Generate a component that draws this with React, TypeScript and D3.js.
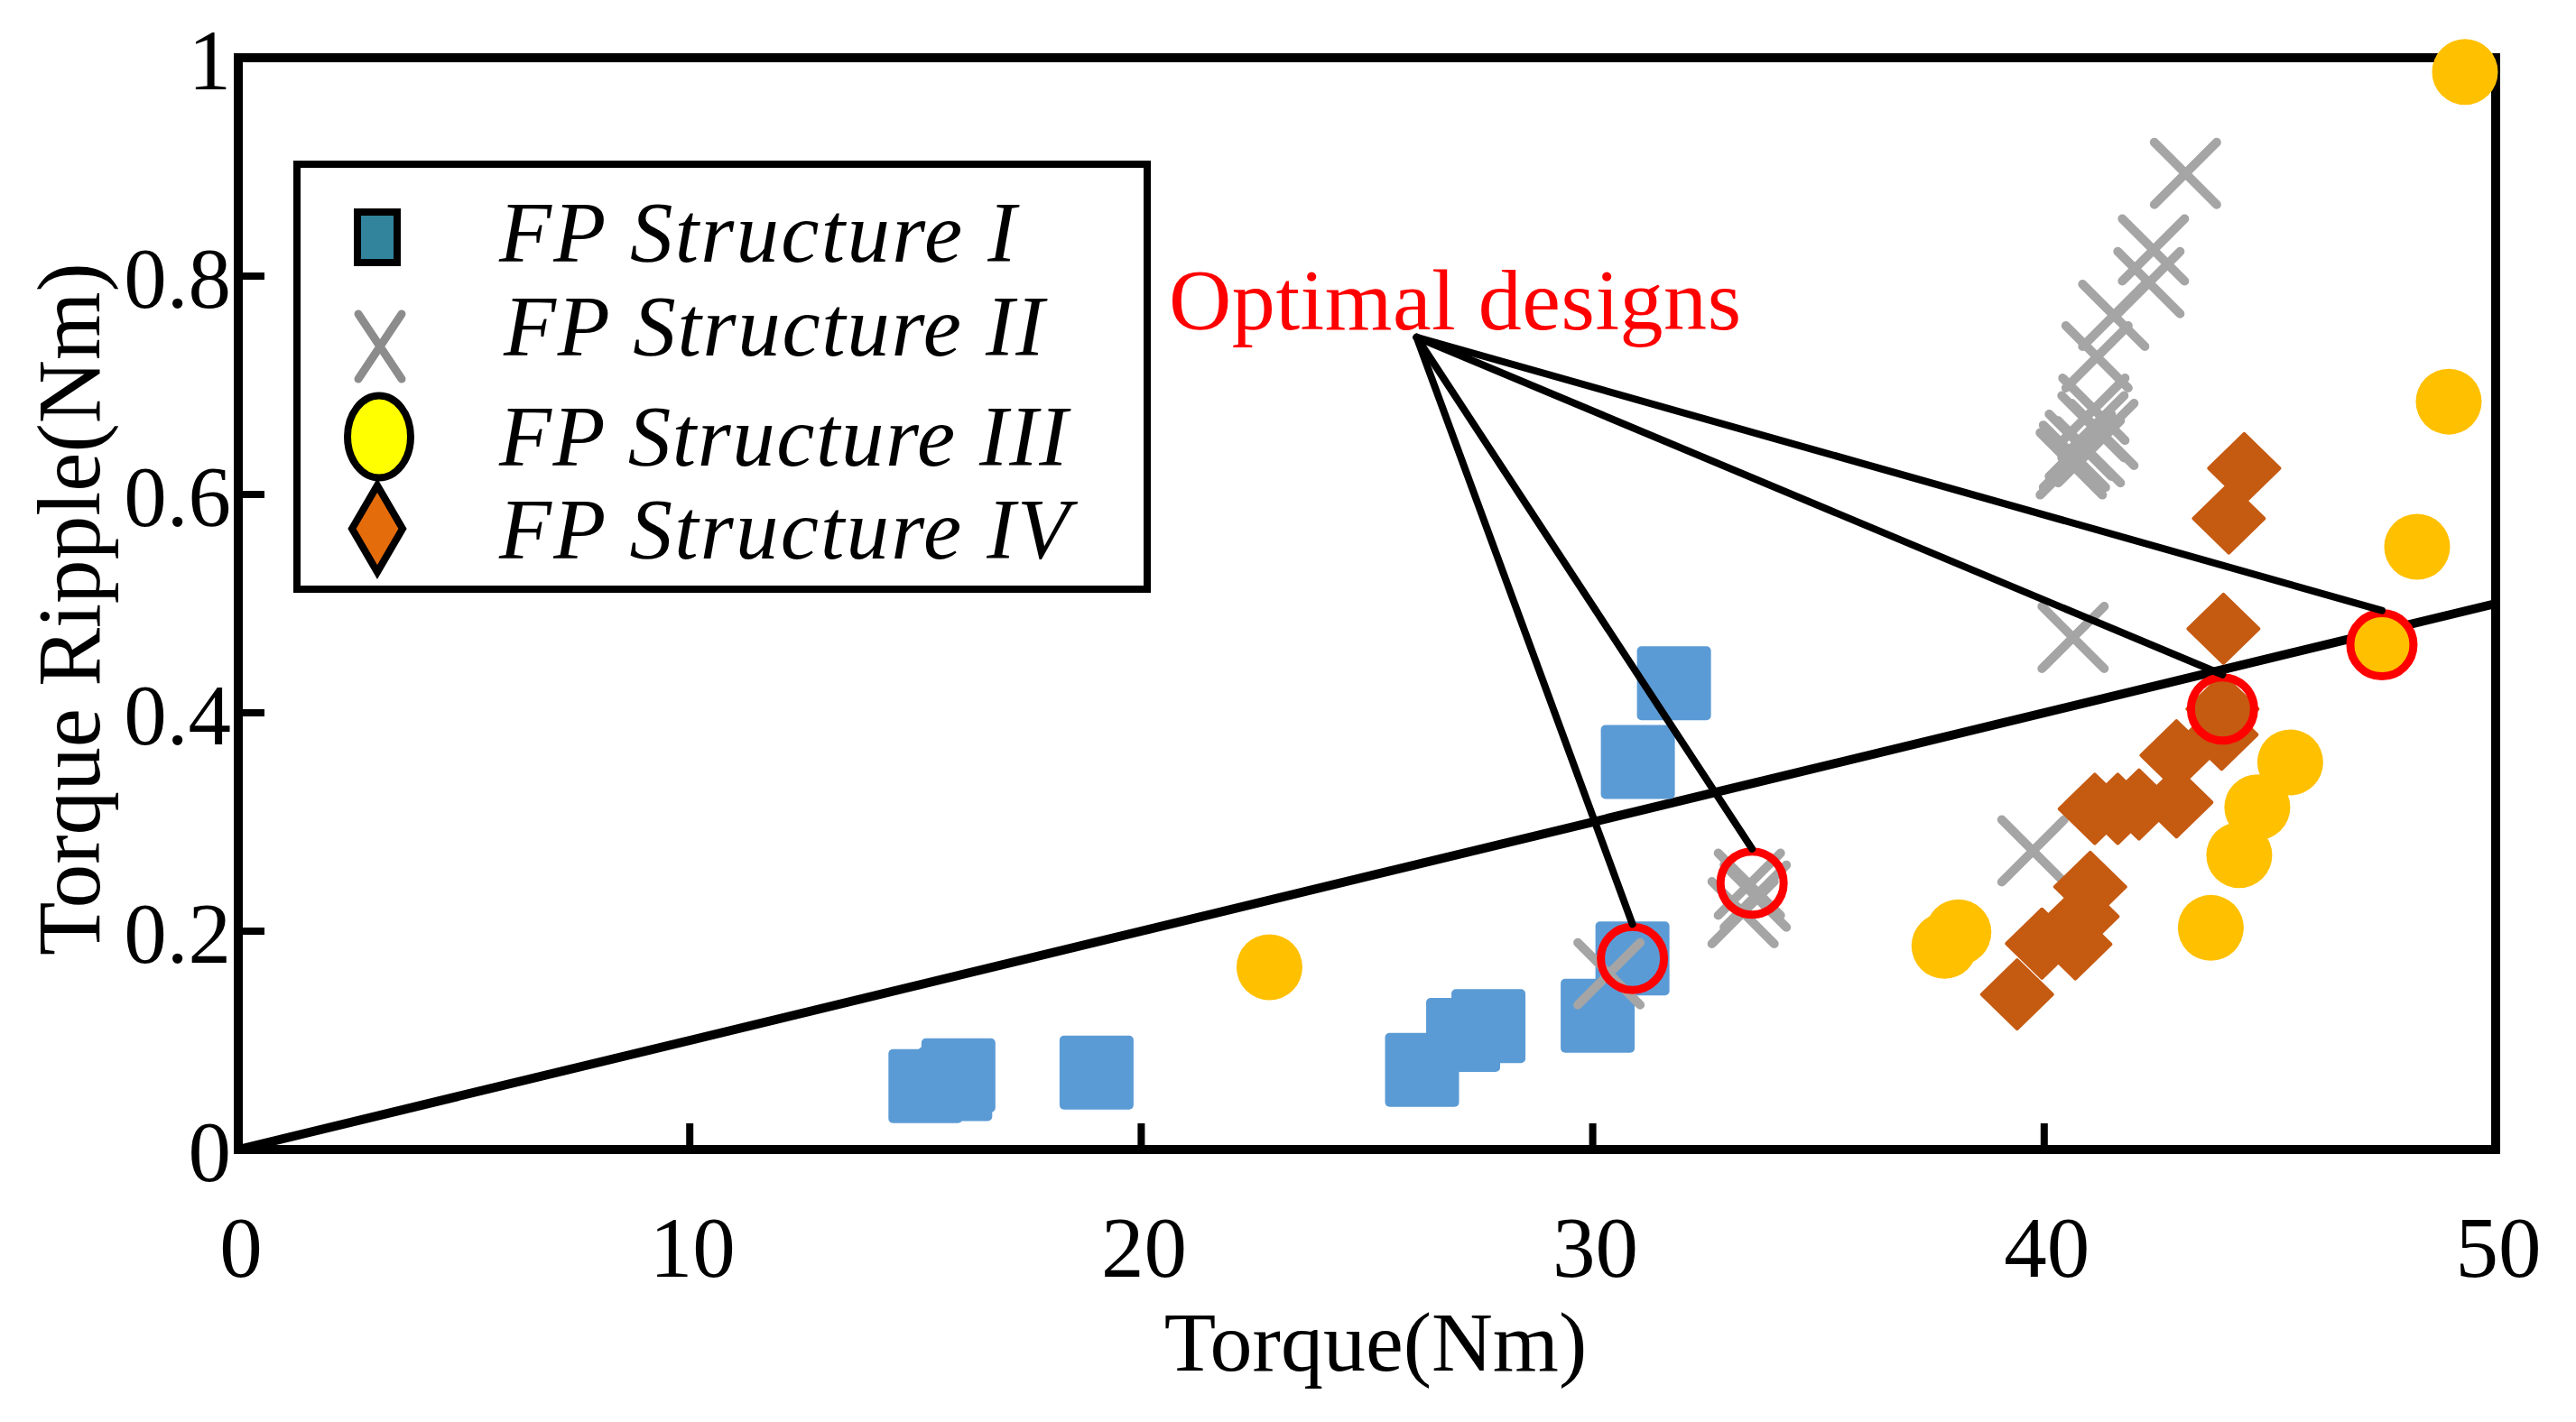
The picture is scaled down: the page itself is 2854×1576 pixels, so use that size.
import * as d3 from "d3";

const W = 2854;
const H = 1576;

const xTicks = [0, 10, 20, 30, 40, 50];
const yTicks = [0, 0.2, 0.4, 0.6, 0.8, 1];
const yTickLabels = ["0", "0.2", "0.4", "0.6", "0.8", "1"];

// FP Structure I (squares)
const torqueI = [15.22, 15.88, 15.95, 19.01, 26.22, 27.13, 27.69, 30.11, 30.88, 31.0, 31.8];
const rippleI = [0.058, 0.06, 0.068, 0.0705, 0.073, 0.105, 0.113, 0.1225, 0.175, 0.355, 0.427];

// FP Structure II (crosses)
const torqueII = [30.36, 33.33, 33.6, 33.47, 39.75, 40.64, 40.6, 40.67, 40.8, 41.0, 41.3, 41.08, 41.1, 41.17, 41.54, 42.32, 42.42, 43.13];
const rippleII = [0.161, 0.217, 0.232, 0.243, 0.2735, 0.469, 0.628, 0.635, 0.645, 0.639, 0.655, 0.662, 0.678, 0.726, 0.764, 0.794, 0.824, 0.894];

// FP Structure III (circles)
const torqueIII = [22.84, 37.79, 38.1, 43.69, 44.32, 44.72, 45.45, 47.48, 48.26, 48.96, 49.32];
const rippleIII = [0.167, 0.1865, 0.199, 0.203, 0.2697, 0.3134, 0.3546, 0.4623, 0.552, 0.685, 0.987];

// FP Structure IV (diamonds)
const torqueIV = [39.4, 39.95, 40.69, 40.85, 41.02, 41.12, 41.63, 42.1, 42.93, 42.93, 43.93, 43.95, 43.97, 44.09, 44.43];
const rippleIV = [0.142, 0.1886, 0.188, 0.2134, 0.2406, 0.312, 0.312, 0.316, 0.318, 0.361, 0.38, 0.4035, 0.477, 0.578, 0.624];

// optimal designs (red rings) and the label anchor
const optTorque = [30.88, 33.53, 43.95, 47.48];
const optRipple = [0.175, 0.244, 0.4035, 0.4623];
const annoAnchor = [26.1, 0.744];

// reference line
const refLine = [
  [0, 0],
  [50, 0.5],
];

const legendLabels = ["FP Structure I", "FP Structure II", "FP Structure III", "FP Structure IV"];

const FONT = "'Liberation Serif', 'Times New Roman', serif";

export default function App() {
  const x = d3.scaleLinear().domain([0, 50]).range([264, 2765]);
  const y = d3.scaleLinear().domain([0, 1]).range([1274, 64]);

  const line = d3
    .line<number[]>()
    .x((d) => x(d[0]))
    .y((d) => y(d[1]));

  const ringR = 35;
  const ax = x(annoAnchor[0]);
  const ay = y(annoAnchor[1]);

  return (
    <svg
      width={W}
      height={H}
      style={{ position: "absolute", left: 0, top: 0, background: "#fff" }}
      fontFamily={FONT}
    >
      <rect x={0} y={0} width={W} height={H} fill="#fff" />

      {/* reference line */}
      <path d={line(refLine) || ""} stroke="#000" strokeWidth={10} fill="none" />

      {/* axes box */}
      <rect
        x={x(0)}
        y={y(1)}
        width={x(50) - x(0)}
        height={y(0) - y(1)}
        fill="none"
        stroke="#000"
        strokeWidth={10}
      />

      {/* ticks */}
      {xTicks.slice(1, -1).map((t) => (
        <line key={"xt" + t} x1={x(t)} x2={x(t)} y1={y(0)} y2={y(0) - 29} stroke="#000" strokeWidth={8} />
      ))}
      {yTicks.slice(1, -1).map((t) => (
        <line key={"yt" + t} x1={x(0)} x2={x(0) + 29} y1={y(t)} y2={y(t)} stroke="#000" strokeWidth={8} />
      ))}
      {xTicks.map((t) => (
        <text key={"xl" + t} x={x(t) + 3} y={1415} fontSize={95} textAnchor="middle" fill="#000">
          {t}
        </text>
      ))}
      {yTicks.map((t, i) => (
        <text key={"yl" + t} x={256} y={y(t) + 35} fontSize={95} textAnchor="end" fill="#000">
          {yTickLabels[i]}
        </text>
      ))}

      {/* axis labels */}
      <text x={1524} y={1519} fontSize={94} textAnchor="middle" fill="#000">
        Torque(Nm)
      </text>
      <text
        transform={`translate(110,675) rotate(-90)`}
        fontSize={100}
        textAnchor="middle"
        textLength={768}
        lengthAdjust="spacingAndGlyphs"
        fill="#000"
      >
        Torque Ripple(Nm)
      </text>

      {/* FP Structure I */}
      {torqueI.map((t, i) => (
        <rect
          key={"s" + i}
          x={x(t) - 41}
          y={y(rippleI[i]) - 41}
          width={82}
          height={82}
          rx={5}
          fill="#5B9BD5"
        />
      ))}

      {/* FP Structure II */}
      {torqueII.map((t, i) => {
        const cx = x(t);
        const cy = y(rippleII[i]);
        const h = 34.5;
        return (
          <path
            key={"x" + i}
            d={`M${cx - h},${cy - h}L${cx + h},${cy + h}M${cx + h},${cy - h}L${cx - h},${cy + h}`}
            stroke="#A5A5A5"
            strokeWidth={10}
            strokeLinecap="round"
            fill="none"
          />
        );
      })}

      {/* FP Structure III */}
      {torqueIII.map((t, i) => (
        <circle key={"c" + i} cx={x(t)} cy={y(rippleIII[i])} r={36.5} fill="#FFC000" />
      ))}

      {/* FP Structure IV */}
      {torqueIV.map((t, i) => {
        const cx = x(t);
        const cy = y(rippleIV[i]);
        return (
          <path
            key={"d" + i}
            d={`M${cx},${cy - 38}L${cx + 39},${cy}L${cx},${cy + 38}L${cx - 39},${cy}Z`}
            fill="#C55A11"
            stroke="#C55A11"
            strokeWidth={4}
            strokeLinejoin="round"
          />
        );
      })}

      {/* optimal design rings */}
      {optTorque.map((t, i) => (
        <circle
          key={"o" + i}
          cx={x(t)}
          cy={y(optRipple[i])}
          r={ringR}
          fill="none"
          stroke="#FF0000"
          strokeWidth={9}
        />
      ))}

      {/* annotation */}
      {optTorque.map((t, i) => (
        <line
          key={"a" + i}
          x1={ax}
          y1={ay}
          x2={x(t)}
          y2={y(optRipple[i]) - ringR - 3}
          stroke="#000"
          strokeWidth={8}
          strokeLinecap="round"
        />
      ))}
      <text x={1295} y={365} fontSize={96} fill="#FF0000" textLength={634} lengthAdjust="spacing">
        Optimal designs
      </text>

      {/* legend */}
      <rect x={329} y={182} width={942} height={471} fill="#fff" stroke="#000" strokeWidth={8} />
      <rect x={396} y={235} width={44} height={56} fill="#31849B" stroke="#000" strokeWidth={8} />
      <path
        d="M397,348L445,420M445,348L397,420"
        stroke="#8C8C8C"
        strokeWidth={9}
        strokeLinecap="round"
        fill="none"
      />
      <ellipse cx={420} cy={484} rx={35} ry={45.5} fill="#FFFF00" stroke="#000" strokeWidth={8} />
      <path d="M418,538L446,586L418,634L390,586Z" fill="#E46C0A" stroke="#000" strokeWidth={8} strokeLinejoin="miter" />
      {legendLabels.map((l, i) => (
        <text
          key={"lg" + i}
          x={[553, 558, 553, 553][i]}
          y={[290, 394, 516, 619][i]}
          fontSize={95}
          fontStyle="italic"
          textLength={[573, 599, 630, 632][i]}
          lengthAdjust="spacing"
          fill="#000"
        >
          {l}
        </text>
      ))}
    </svg>
  );
}
